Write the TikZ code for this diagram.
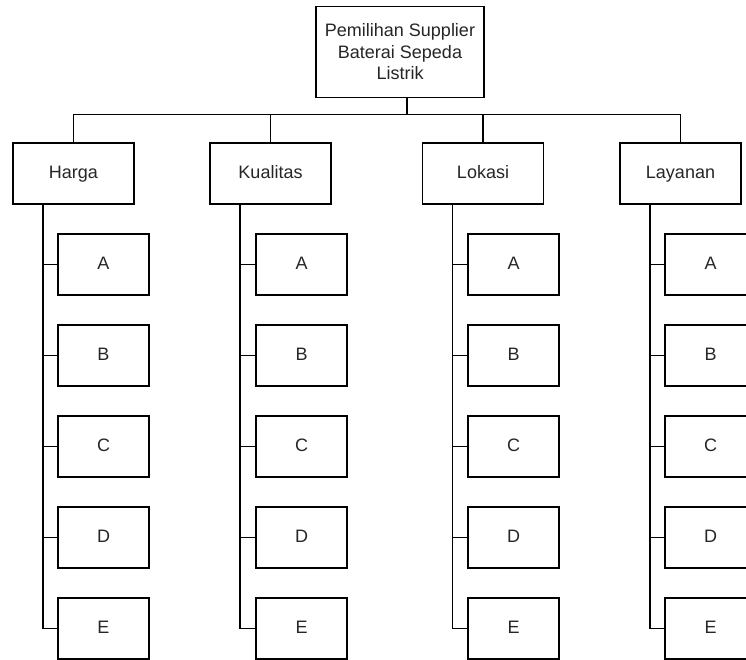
\documentclass[tikz,border=0pt]{standalone}
\usepackage{fontspec}
\setmainfont{Liberation Sans}
\begin{document}
\begin{tikzpicture}[x=1pt,y=-1pt,
  box/.style={draw=black,line width=1.5pt,fill=white,inner sep=0pt,align=center,
    font=\fontsize{18}{21.5}\selectfont,text=black!85},
  rootbox/.style={box,minimum width=168pt,minimum height=91pt},
  catbox/.style={box,minimum width=121pt,minimum height=61pt,text height=13pt,text depth=4pt},
  itembox/.style={box,minimum width=91pt,minimum height=61pt,text height=13pt,text depth=4pt},
  link/.style={draw=black,line width=1.5pt}]
\clip (0,0) rectangle (746,659);
\node[rootbox] (root) at (400,52) {Pemilihan Supplier\\Baterai Sepeda\\Listrik};
\node[catbox] (c1) at (73.5,173.5) {Harga};
\node[catbox] (c2) at (270.5,173.5) {Kualitas};
\node[catbox] (c3) at (483,173.5) {Lokasi};
\node[catbox] (c4) at (680.5,173.5) {Layanan};
\foreach \c/\x in {c1/103.5,c2/301.5,c3/513.5,c4/710.5}{
  \foreach \l [count=\i from 0] in {A,B,C,D,E}{
    \node[itembox] (\c\l) at (\x,264.5+91*\i) {\l};
    \draw[link] ([xshift=-30.5pt]\c.south) |- (\c\l.west);
  }
  \draw[link] ([xshift=7pt]root.south) -- ++(0,16) -| (\c.north);
}
\end{tikzpicture}
\end{document}
